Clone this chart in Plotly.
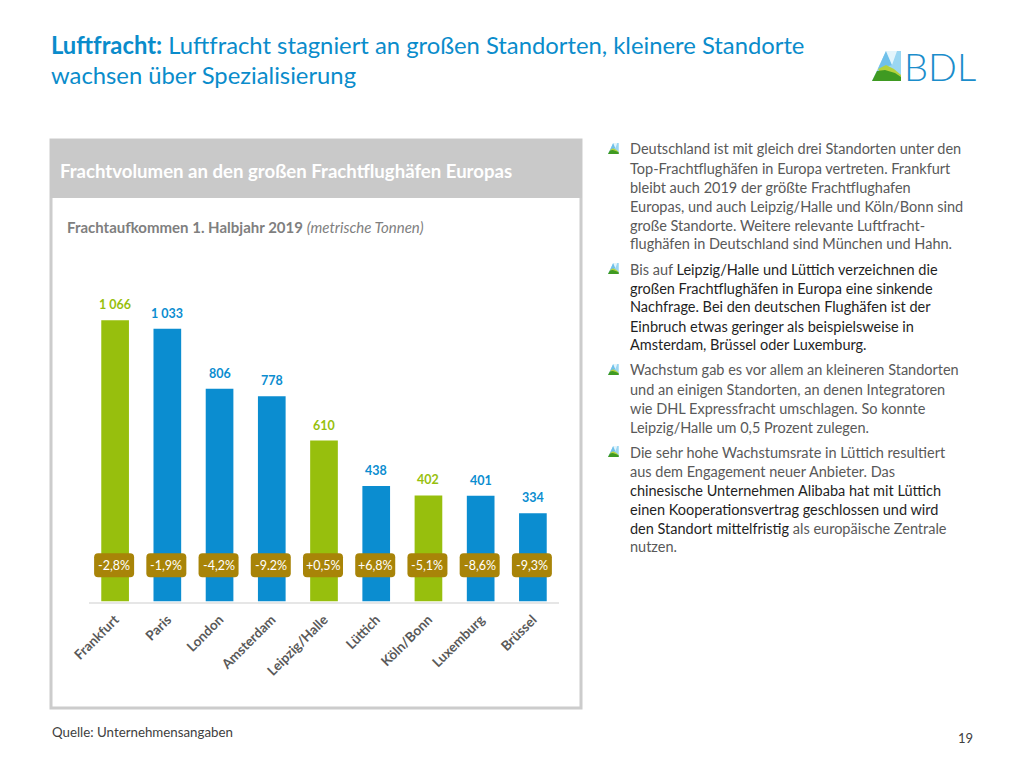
import plotly.graph_objects as go

W, H = 1024, 768
FONT = "Lato"
BLUE = "#0B8DD0"
GREEN = "#97BF0D"
GOLD = "#A88408"
GRAY = "#595959"
DARK = "#1F1F1F"
TITLE = "#0A8CCB"

categories = ["Frankfurt", "Paris", "London", "Amsterdam", "Leipzig/Halle",
              "Lüttich", "Köln/Bonn", "Luxemburg", "Brüssel"]
volumes = [1066, 1033, 806, 778, 610, 438, 402, 401, 334]
volume_labels = ["1 066", "1 033", "806", "778", "610", "438", "402", "401", "334"]
changes = ["-2,8%", "-1,9%", "-4,2%", "-9.2%", "+0,5%", "+6,8%", "-5,1%", "-8,6%", "-9,3%"]
german = [True, False, False, False, True, False, True, False, False]

g = f'<span style="color:{GRAY}">'
k = f'<span style="color:{DARK}">'
e = '</span>'
body_lines = [
    (149, g + "Deutschland ist mit gleich drei Standorten unter den" + e),
    (168, g + "Top-Frachtflughäfen in Europa vertreten. Frankfurt" + e),
    (187, g + "bleibt auch 2019 der größte Frachtflughafen" + e),
    (206, g + "Europas, und auch Leipzig/Halle und Köln/Bonn sind" + e),
    (225, g + "große Standorte. Weitere relevante Luftfracht-" + e),
    (244, g + "flughäfen in Deutschland sind München und Hahn." + e),
    (269, g + "Bis auf " + e + k + "Leipzig/Halle und Lüttich verzeichnen die" + e),
    (288, k + "großen Frachtflughäfen in Europa eine sinkende" + e),
    (307, k + "Nachfrage. Bei den deutschen Flughäfen ist der" + e),
    (326, k + "Einbruch etwas geringer als beispielsweise in" + e),
    (344, k + "Amsterdam, Brüssel oder Luxemburg." + e),
    (370, g + "Wachstum gab es vor allem an kleineren Standorten" + e),
    (389, g + "und an einigen Standorten, an denen Integratoren" + e),
    (408, g + "wie DHL Expressfracht umschlagen. So konnte" + e),
    (427, g + "Leipzig/Halle um 0,5 Prozent zulegen." + e),
    (452, g + "Die sehr hohe Wachstumsrate in Lüttich resultiert" + e),
    (471, g + "aus dem Engagement neuer Anbieter. Das" + e),
    (490, k + "chinesische Unternehmen Alibaba hat mit Lüttich" + e),
    (509, k + "einen Kooperationsvertrag geschlossen und wird" + e),
    (528, k + "den Standort mittelfristig" + e + g + " als europäische Zentrale" + e),
    (546, g + "nutzen." + e),
]
bullet_rows = [149, 269, 370, 452]


def px(x):
    return x / W


def py(y):
    return 1 - y / H


def rect(x0, y0, x1, y1, fill, line=None, lw=0):
    return dict(type="rect", xref="paper", yref="paper", layer="below",
                x0=px(x0), x1=px(x1), y0=py(y1), y1=py(y0), fillcolor=fill,
                line=dict(color=line or fill, width=lw))


def poly(points, fill):
    path = "M " + " L ".join(f"{px(a)} {py(b)}" for a, b in points) + " Z"
    return dict(type="path", xref="paper", yref="paper", path=path,
                fillcolor=fill, line=dict(width=0))


def logo(x, y, s):
    """Mountain mark: x,y is the top left of a 29x30 box, s the scale."""
    P = lambda a, b: (x + a * s, y + b * s)
    return [
        poly([P(14, 0), P(29, 0), P(29, 30), P(0, 30)], "#9AD6F2"),
        poly([P(14, 0), P(20, 14), P(6, 18)], "#6FC0EA"),
        poly([P(14, 0), P(25, 0), P(20, 14)], "#E4F5FC"),
        poly([P(6, 18), P(14, 14), P(22, 18), P(29, 24), P(29, 26), P(10, 24)], "#B4D23C"),
        poly([P(0, 30), P(5, 20), P(13, 19), P(23, 22), P(29, 26), P(29, 30)], "#3F9A22"),
    ]


def ann(x, y, text, size, color=GRAY, anchor="left", **kw):
    return dict(xref="paper", yref="paper", x=px(x), y=py(y), text=text, showarrow=False,
                xanchor=anchor, yanchor="middle", align="left",
                font=dict(family=FONT, size=size, color=color, **kw))


bar_colors = [GREEN if d else BLUE for d in german]

fig = go.Figure(go.Bar(
    x=categories, y=volumes, width=0.53, marker=dict(color=bar_colors, line=dict(width=0)),
    hoverinfo="skip",
))

PILL_LEVEL = 137  # the level of the change badges on the value axis
pill = ("M -17 -12 L 15 -12 Q 19 -12 19 -8 L 19 8 Q 19 12 15 12 L -17 12 "
        "Q -21 12 -21 8 L -21 -8 Q -21 -12 -17 -12 Z")

shapes = [
    rect(51, 140, 581, 708, "#FFFFFF", "#CCCCCC", 3),
    rect(50, 139, 582, 198, "#C9C9C9"),
]
for i in range(len(categories)):
    shapes.append(dict(type="path", xref="x", yref="y", xsizemode="pixel", ysizemode="pixel",
                       xanchor=i, yanchor=PILL_LEVEL, path=pill, fillcolor=GOLD,
                       line=dict(width=0), layer="above"))
shapes += logo(872, 51, 1)
for r in bullet_rows:
    shapes += logo(608, r - 6, 0.37)

annotations = [
    ann(49, 45, '<b>Luftfracht:</b> Luftfracht stagniert an großen Standorten, kleinere Standorte', 23.8, TITLE),
    ann(49, 75, "wachsen über Spezialisierung", 23.8, TITLE),
    ann(902, 66, "BDL", 38, "#1B8DCB", weight=300),
    ann(58, 171, "<b>Frachtvolumen an den großen Frachtflughäfen Europas</b>", 18.6, "#FFFFFF"),
    ann(65, 227, "<b>Frachtaufkommen 1. Halbjahr 2019</b> <i>(metrische Tonnen)</i>", 15, "#7F7F7F"),
    ann(50, 732, "Quelle: Unternehmensangaben", 13.3, "#404040"),
    ann(975, 738, "19", 13, "#404040", anchor="right"),
]
annotations += [ann(628, y, t, 14.5) for y, t in body_lines]
for cat, val, lab, col, ch in zip(categories, volumes, volume_labels, bar_colors, changes):
    annotations.append(dict(xref="x", yref="y", x=cat, y=val, text=f"<b>{lab}</b>", showarrow=False,
                            yanchor="bottom", yshift=6,
                            font=dict(family=FONT, size=12.5, color=col)))
    annotations.append(dict(xref="x", yref="y", x=cat, y=PILL_LEVEL, text=ch, showarrow=False,
                            xshift=-1, font=dict(family=FONT, size=12.5, color="#FFFFFF")))

fig.update_layout(
    width=W, height=H, margin=dict(l=0, r=0, t=0, b=0, autoexpand=False),
    paper_bgcolor="#FFFFFF", plot_bgcolor="rgba(0,0,0,0)", showlegend=False,
    font=dict(family=FONT),
    xaxis=dict(domain=[px(89), px(559)], type="category", tickangle=-45,
               showgrid=False, showline=True, linecolor="#E6E6E6", linewidth=2, ticks="",
               ticklabelstandoff=3,
               tickfont=dict(family=FONT, size=13.5, color=GRAY, weight=700)),
    yaxis=dict(domain=[py(601.5), py(270)], range=[0, 1256], visible=False),
    shapes=shapes, annotations=annotations,
)

fig.write_html("out.html", config={"displayModeBar": False},
               post_script="document.body.style.margin='0';")
